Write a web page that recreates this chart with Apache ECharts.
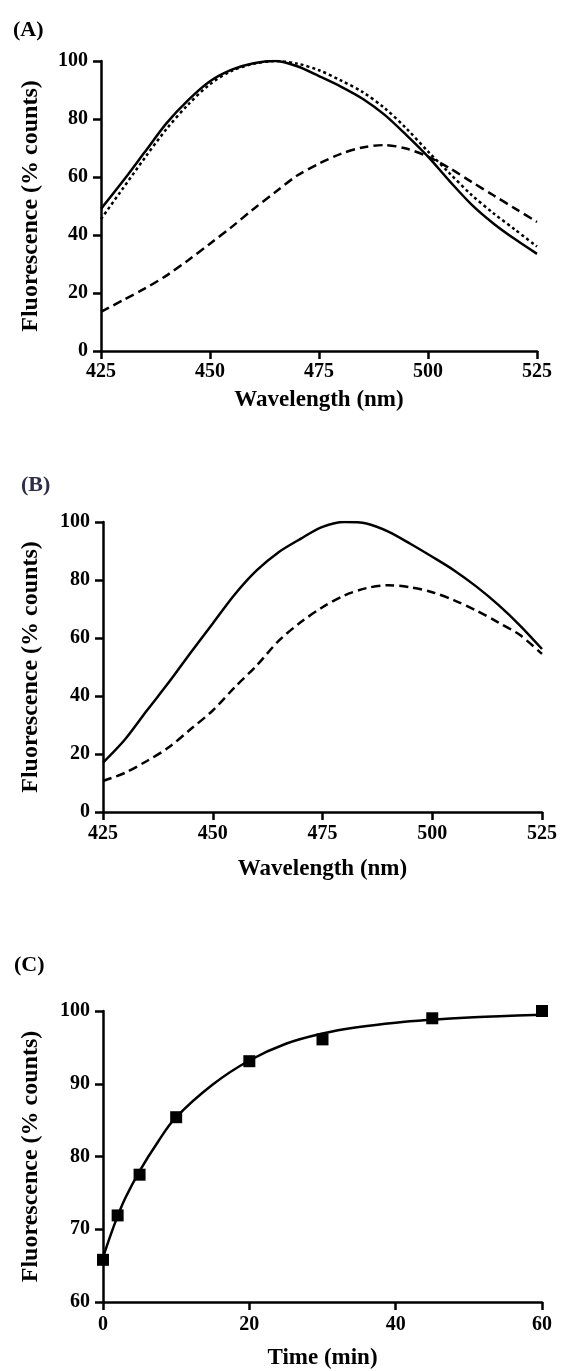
<!DOCTYPE html>
<html>
<head>
<meta charset="utf-8">
<script src="https://cdn.jsdelivr.net/npm/echarts@6/dist/echarts.min.js"></script>
<style>
  html, body { margin: 0; padding: 0; background: #fff; }
  #chart { width: 562px; height: 1371px; }
</style>
</head>
<body>
<div id="chart"></div>
<script>
// panel A / B: emission spectra, 425-525 nm every 5 nm
var wavelength = [425, 430, 435, 440, 445, 450, 455, 460, 465, 470, 475, 480, 485, 490, 495, 500, 505, 510, 515, 520, 525];
var specA_solid = [49, 58.5, 68.5, 78.5, 86.5, 93, 97, 99.2, 100, 98.2, 94.8, 91.2, 87, 81.5, 74.5, 67, 58.5, 50.5, 44, 38.5, 33.5];
var specA_dotted = [45.5, 56, 66.5, 76.5, 85, 92, 96.6, 99, 100, 99.1, 96.8, 93.3, 89.3, 83.8, 76.8, 68.8, 61.2, 53.8, 47.5, 41.8, 36];
var specA_dashed = [13.5, 17.5, 21.5, 26, 31.3, 37, 42.8, 49, 54.8, 60.5, 64.6, 68, 70.2, 71, 69.8, 67, 63, 58.3, 53.7, 49.1, 44.5];
var specB_solid = [17, 25, 35, 44.7, 55, 65, 75, 83.3, 89.6, 94.2, 98.3, 100, 99.5, 96.7, 92.5, 88, 83.3, 77.8, 71.5, 64.3, 56.2];
var specB_dashed = [10.7, 13.5, 17.6, 22.3, 28.6, 35, 43, 50.5, 59, 65.4, 70.6, 74.7, 77.2, 78.2, 77.5, 75.8, 73, 69.5, 65.4, 61, 54.5];

// panel C: time course
var timeMin = [0, 2, 5, 10, 20, 30, 45, 60];
var timeFluor = [65.8, 71.9, 77.5, 85.4, 93.1, 96.1, 99.0, 100];
var fitTime = [0, 1, 2, 3, 5, 7.5, 10, 15, 20, 25, 30, 35, 40, 45, 50, 55, 60];
var fitFluor = [66.1, 69.1, 71.8, 74.2, 78, 82, 85.4, 89.9, 93.2, 95.5, 96.9, 97.8, 98.4, 98.8, 99.1, 99.3, 99.5];

var panelLabels = ['(A)', '(B)', '(C)'];

var FONT = '"Liberation Serif", "Times New Roman", serif';

function pairs(xs, ys) {
  return xs.map(function (x, i) { return [x, ys[i]]; });
}

function xAx(idx, min, max, interval, nameGap, labelMargin) {
  return {
    gridIndex: idx, type: 'value', min: min, max: max, interval: interval,
    name: idx === 2 ? 'Time (min)' : 'Wavelength (nm)',
    nameLocation: 'middle', nameGap: nameGap,
    nameTextStyle: { fontFamily: FONT, fontWeight: 'bold', fontSize: 23, color: '#000' },
    axisLine: { show: true, onZero: false, lineStyle: { color: '#000', width: 2.5 } },
    axisTick: { show: true, length: 8, lineStyle: { color: '#000', width: 2.5 } },
    axisLabel: { margin: labelMargin, fontFamily: FONT, fontWeight: 'bold', fontSize: 20, color: '#000' },
    splitLine: { show: false }
  };
}

function yAx(idx, min, max, interval, nameGap) {
  return {
    gridIndex: idx, type: 'value', min: min, max: max, interval: interval,
    name: 'Fluorescence (% counts)',
    nameLocation: 'middle', nameGap: nameGap,
    nameTextStyle: { fontFamily: FONT, fontWeight: 'bold', fontSize: 24, color: '#000' },
    axisLine: { show: true, onZero: false, lineStyle: { color: '#000', width: 2.5 } },
    axisTick: { show: true, length: 8, lineStyle: { color: '#000', width: 2.5 } },
    axisLabel: { margin: 13, fontFamily: FONT, fontWeight: 'bold', fontSize: 20, color: '#000' },
    splitLine: { show: false }
  };
}

function curve(idx, ys, dash) {
  return {
    type: 'line', xAxisIndex: idx, yAxisIndex: idx,
    data: pairs(wavelength, ys), smooth: 0.3, showSymbol: false, symbol: 'none',
    lineStyle: { color: '#000', width: 2.5, type: dash },
    animation: false
  };
}

var chart = echarts.init(document.getElementById('chart'));
chart.setOption({
  backgroundColor: '#fff',
  animation: false,
  title: [
    { text: panelLabels[0], left: 8, top: 14, textStyle: { fontFamily: FONT, fontWeight: 'bold', fontSize: 22, color: '#000' } },
    { text: panelLabels[1], left: 16, top: 469, textStyle: { fontFamily: FONT, fontWeight: 'bold', fontSize: 22, color: '#2e2e48' } },
    { text: panelLabels[2], left: 9, top: 949, textStyle: { fontFamily: FONT, fontWeight: 'bold', fontSize: 22, color: '#000' } }
  ],
  grid: [
    { left: 101, top: 61, width: 436, height: 290 },
    { left: 103, top: 522, width: 439, height: 290 },
    { left: 103, top: 1011, width: 439, height: 291 }
  ],
  xAxis: [
    xAx(0, 425, 525, 25, 38, 11),
    xAx(1, 425, 525, 25, 46, 12),
    xAx(2, 0, 60, 20, 45, 13)
  ],
  yAxis: [
    yAx(0, 0, 100, 20, 58),
    yAx(1, 0, 100, 20, 60),
    yAx(2, 60, 100, 10, 60)
  ],
  series: [
    curve(0, specA_solid, 'solid'),
    curve(0, specA_dotted, [3, 3]),
    curve(0, specA_dashed, [9, 5]),
    curve(1, specB_solid, 'solid'),
    curve(1, specB_dashed, [9, 5]),
    {
      type: 'line', xAxisIndex: 2, yAxisIndex: 2,
      data: pairs(fitTime, fitFluor), smooth: 0.4, showSymbol: false, symbol: 'none',
      lineStyle: { color: '#000', width: 2.5 }
    },
    {
      type: 'scatter', xAxisIndex: 2, yAxisIndex: 2,
      data: pairs(timeMin, timeFluor), symbol: 'rect', symbolSize: 12,
      itemStyle: { color: '#000', opacity: 1 }
    }
  ]
});
</script>
</body>
</html>
